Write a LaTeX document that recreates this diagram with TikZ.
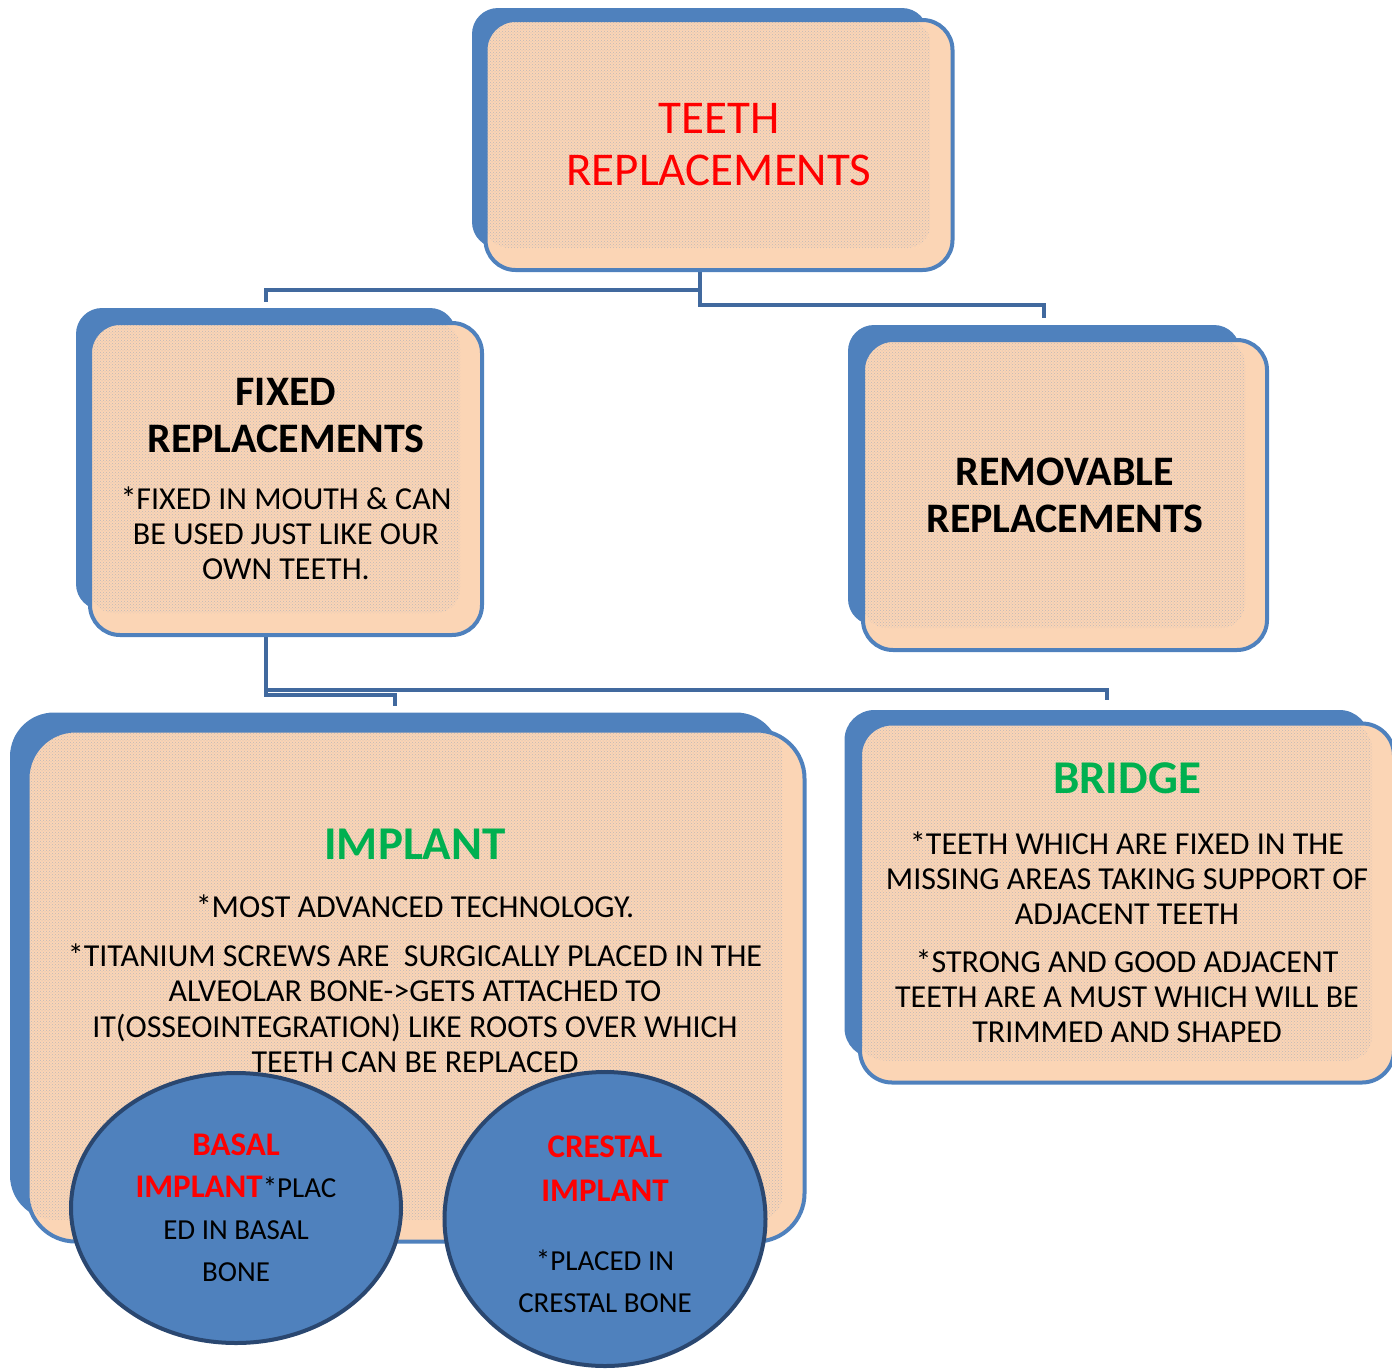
\documentclass[tikz,border=0pt]{standalone}
\usepackage{fontspec}
\setmainfont{Carlito}
\usetikzlibrary{shapes.geometric,backgrounds,patterns}
\definecolor{boxblue}{HTML}{4F81BD}
\definecolor{linkblue}{HTML}{41699E}
\definecolor{peach}{HTML}{FBD5B5}
\definecolor{ovalrim}{HTML}{2A4770}
\definecolor{headgreen}{HTML}{00B050}
\newcommand{\fs}[2]{\fontsize{#1}{#2}\selectfont}
\newcommand{\hd}[1]{{\fs{42}{47}\bfseries #1}}
\newcommand{\greenhd}[1]{{\fs{47}{52}\bfseries\color{headgreen}#1}}
\newcommand{\redhd}[1]{{\fs{33}{42}\bfseries\color{red}#1}}

\begin{document}
\begin{tikzpicture}[x=1pt, y=-1pt,
  back/.style={fill=boxblue, inner sep=0pt},
  front/.style={fill=peach, draw=boxblue, line width=4pt, inner sep=0pt, align=center,
    path picture={\fill[pattern=crosshatch dots, pattern color=boxblue!35!peach, rounded corners=24pt]
      (path picture bounding box.north west) rectangle ([xshift=-22pt, yshift=22pt]path picture bounding box.south east);}},
  link/.style={draw=linkblue, line width=4.5pt},
  oval/.style={ellipse, fill=boxblue, draw=ovalrim, line width=4pt, inner sep=0pt, align=center, font=\fs{29}{42}}]
  \useasboundingbox (0,0) rectangle (1392,1368);

  % blue backs
  \foreach \n/\x/\y/\w/\h/\r in {
    teethback/700/128/456/240/26, fixedback/266/459/380/302/26,
    removback/1044/475/392/300/26, implback/395/966/770/507/44,
    bridgeback/1107/884/525/348/30} {
    \node[back, rounded corners=\r pt, minimum width=\w, minimum height=\h] (\n) at (\x,\y) {};
  }

  \node[front, rounded corners=30pt, minimum width=467, minimum height=250, font=\fs{47}{52}, text=red] (teeth) at (719,145) {TEETH\\REPLACEMENTS};
  \node[front, rounded corners=30pt, minimum width=392, minimum height=312, font=\fs{32}{35}] (fixed) at (286,479)
    {\hd{FIXED}\\[12pt]\hd{REPLACEMENTS}\\[22pt]*FIXED IN MOUTH \& CAN\\BE USED JUST LIKE OUR\\OWN TEETH.};
  \node[front, rounded corners=30pt, minimum width=404, minimum height=310, font=\fs{42}{47}\bfseries] (remov) at (1065,495) {REMOVABLE\\REPLACEMENTS};
  \node[front, rounded corners=48pt, minimum width=777, minimum height=511] (implant) at (416,986) {};
  \node[front, rounded corners=32pt, minimum width=534, minimum height=359, font=\fs{32}{35}] (bridge) at (1127,903)
    {\greenhd{BRIDGE}\\[26pt]*TEETH WHICH ARE FIXED IN THE\\MISSING AREAS TAKING SUPPORT OF\\ADJACENT TEETH\\[13pt]*STRONG AND GOOD ADJACENT\\TEETH ARE A MUST WHICH WILL BE\\TRIMMED AND SHAPED};

  \node[align=center, font=\fs{32}{35.5}] (implanttext) at (415,951)
    {\greenhd{IMPLANT}\\[23pt]*MOST ADVANCED TECHNOLOGY.\\[13pt]*TITANIUM SCREWS ARE~ SURGICALLY PLACED IN THE\\ALVEOLAR BONE->GETS ATTACHED TO\\IT(OSSEOINTEGRATION) LIKE ROOTS OVER WHICH\\TEETH CAN BE REPLACED};

  % the two kinds of implant
  \node[oval, minimum width=330, minimum height=270] (basal) at (236,1208)
    {\redhd{BASAL}\\\redhd{IMPLANT}*PLAC\\ED IN BASAL\\BONE};
  \node[oval, minimum width=321, minimum height=294] (crestal) at (605,1219)
    {\rule{0pt}{32pt}\redhd{CRESTAL}\\[2pt]\redhd{IMPLANT}\\[27pt]*PLACED IN\\CRESTAL BONE};

  \begin{scope}[on background layer]
    \draw[link] (teethback.south) -- ++(0,42) -| ([yshift=6pt]fixedback.north);
    \draw[link] (teethback.south) -- ++(0,57) -| ([yshift=7pt]removback.north);
    \draw[link] (fixedback.south) -- ++(0,80) -| ([yshift=10pt]bridgeback.north);
    \draw[link] (fixedback.south) -- ++(0,85) -| ([yshift=6pt]implback.north);
  \end{scope}
\end{tikzpicture}
\end{document}
